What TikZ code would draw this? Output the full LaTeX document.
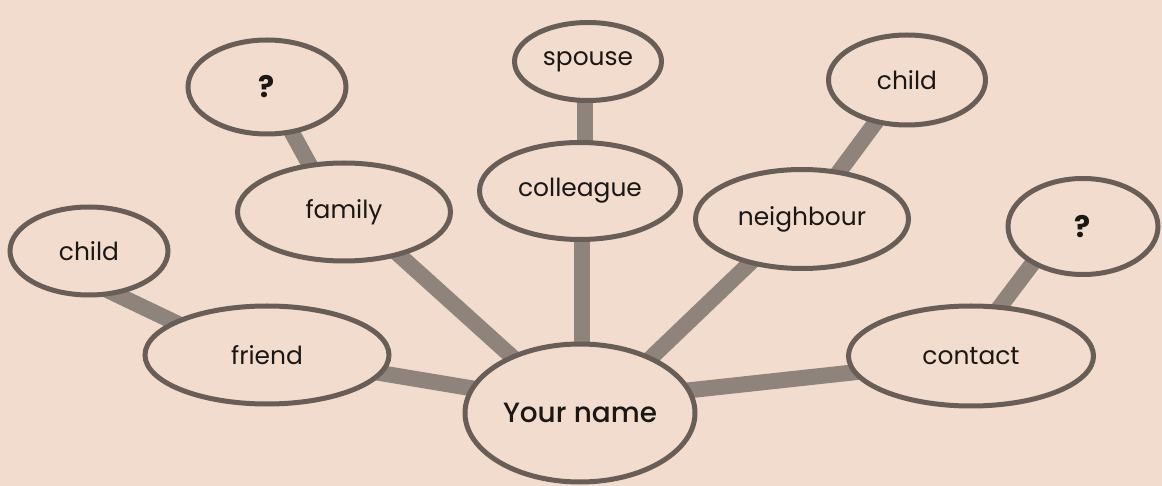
\documentclass[tikz,border=0pt]{standalone}
\usepackage{fontspec}
\setmainfont{Poppins}
\newfontfamily\pmed{Poppins}[UprightFont={* Medium}]
\usetikzlibrary{shapes.geometric,calc,backgrounds}
\definecolor{bgc}{HTML}{F2DCCE}
\definecolor{edgec}{HTML}{685E58}
\definecolor{linkc}{HTML}{8F847B}
\definecolor{txtc}{HTML}{1A1715}
\begin{document}
\begin{tikzpicture}[x=1bp,y=-1bp,
  bubble/.style={ellipse,draw=edgec,fill=bgc,line width=5bp,inner sep=0pt,
    text=txtc,font=\fontsize{25}{30}\selectfont},
  qmark/.style={font=\fontsize{30}{34}\selectfont\bfseries},
  link/.style={draw=linkc,line width=16bp}]
\useasboundingbox (0,0) rectangle (1162,486);
\node[bubble,minimum width=230bp,minimum height=138bp,font=\fontsize{28}{32}\pmed] (yn) at (580,413) {Your name};
\node[bubble,minimum width=244bp,minimum height=98bp] (friend) at (267,355) {friend};
\node[bubble,minimum width=158bp,minimum height=88bp] (childL) at (89,251) {child};
\node[bubble,minimum width=213bp,minimum height=98bp] (family) at (344,212) {family};
\node[bubble,qmark,minimum width=158bp,minimum height=94bp] (qL) at (267,87) {?};
\node[bubble,minimum width=201bp,minimum height=97bp] (colleague) at (580,191) {colleague};
\node[bubble,minimum width=147bp,minimum height=78bp] (spouse) at (588,61.5) {spouse};
\node[bubble,minimum width=213bp,minimum height=99bp] (neighbour) at (802,219) {neighbour};
\node[bubble,minimum width=157bp,minimum height=90bp] (childR) at (907,80) {child};
\node[bubble,qmark,minimum width=150bp,minimum height=96bp] (qR) at (1083,226.5) {?};
\node[bubble,minimum width=245bp,minimum height=100bp] (contact) at (971,356) {contact};
\begin{pgfonlayer}{background}
\fill[bgc] (0,0) rectangle (1162,486);
\draw[link] ($(yn)+(-80,-20)$) -- ($(friend)+(83,13)$);
\draw[link] ($(yn)+(-50,-40)$) -- ($(family)+(33,23)$);
\draw[link] ($(yn)+(2,-43)$) -- ($(colleague)+(2,24)$);
\draw[link] ($(yn)+(52,-37)$) -- ($(neighbour)+(-29,22)$);
\draw[link] ($(yn)+(80,-19.5)$) -- ($(contact)+(-91,13.5)$);
\draw[link] ($(friend)+(-72,-23)$) -- ($(childL)+(14,37)$);
\draw[link] ($(family)+(-26,-32)$) -- ($(qL)+(18,33)$);
\draw[link] ($(colleague)+(5,-26)$) -- ($(spouse)+(-3,23.5)$);
\draw[link] ($(neighbour)+(28,-35)$) -- ($(childR)+(-20,27)$);
\draw[link] ($(contact)+(20,-37.5)$) -- ($(qR)+(-38,20.5)$);
\end{pgfonlayer}
\end{tikzpicture}
\end{document}
